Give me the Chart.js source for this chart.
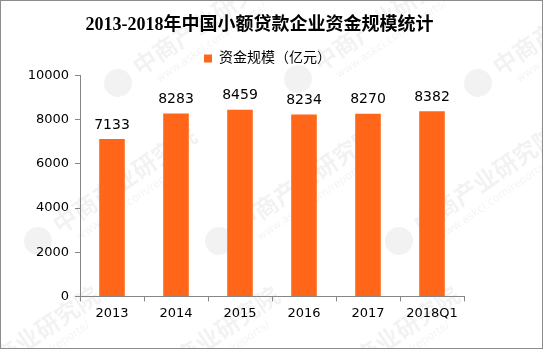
<!DOCTYPE html>
<html>
<head>
<meta charset="utf-8">
<script src="https://cdn.jsdelivr.net/npm/chart.js@4"></script>
<style>
  html, body { margin: 0; padding: 0; background: #fff; }
  .wrap { position: relative; width: 541px; height: 347px; border: 1px solid #8c8c8c; }
</style>
</head>
<body>
<div class="wrap"><canvas id="chart"></canvas></div>
<script>
const anos = ['2013', '2014', '2015', '2016', '2017', '2018Q1'];
const valores = [7133, 8283, 8459, 8234, 8270, 8382];
const ticksY = [0, 2000, 4000, 6000, 8000, 10000];

const laranja = '#ff6619';
const cinzaEixo = '#868686';
const fonteTexto = '"DejaVu Sans", "Noto Sans CJK SC", sans-serif';

// marca d'água com logo e texto inclinados, por trás das barras
const marcaDagua = {
  id: 'marcaDagua',
  beforeDraw(chart) {
    const ctx = chart.ctx;
    const pontos = [[117, 82], [297, 78], [477, 82], [37, 240], [218, 240], [398, 240], [27, -80], [207, -80], [387, -80], [-60, 400], [120, 400], [300, 400]];
    ctx.save();
    pontos.forEach(([x, y]) => {
      ctx.save();
      ctx.translate(x, y);
      ctx.rotate(-0.6);
      ctx.fillStyle = 'rgba(0,0,0,0.05)';
      ctx.beginPath();
      ctx.arc(0, 0, 14, 0, Math.PI * 2);
      ctx.fill();
      ctx.font = 'bold 24px "Noto Sans CJK SC", sans-serif';
      ctx.textBaseline = 'middle';
      ctx.fillText('中商产业研究院', 22, -2);
      ctx.font = '11px "DejaVu Sans", sans-serif';
      ctx.fillText('www.askci.com/reports/', 34, 20);
      ctx.restore();
    });
    ctx.restore();
  }
};

// título e legenda centrados sobre a largura toda, não só sobre o gráfico
const centrarTopo = {
  id: 'centrarTopo',
  afterLayout(chart) {
    const t = chart.titleBlock, l = chart.legend;
    if (t) { t.left += 22; t.right += 22; }
    if (l) { l.left += 30; l.right += 30; }
  }
};

// valores escritos acima de cada barra
const rotulos = {
  id: 'rotulos',
  afterDatasetsDraw(chart) {
    const ctx = chart.ctx;
    const meta = chart.getDatasetMeta(0);
    ctx.save();
    ctx.font = '14px ' + fonteTexto;
    ctx.fillStyle = '#000';
    ctx.textAlign = 'center';
    ctx.textBaseline = 'bottom';
    meta.data.forEach((bar, i) => {
      ctx.fillText(String(valores[i]), bar.x, bar.y - 7);
    });
    ctx.restore();
  }
};

new Chart(document.getElementById('chart'), {
  type: 'bar',
  data: {
    labels: anos,
    datasets: [{
      label: '资金规模（亿元）',
      data: valores,
      backgroundColor: laranja,
      borderWidth: 0,
      barPercentage: 0.4,
      categoryPercentage: 1
    }]
  },
  options: {
    responsive: true,
    maintainAspectRatio: false,
    animation: false,
    layout: { padding: { left: 10, right: 78, top: 0, bottom: 23 } },
    plugins: {
      title: {
        display: true,
        text: '2013-2018年中国小额贷款企业资金规模统计',
        color: '#000',
        font: { family: '"Liberation Serif", "Noto Sans CJK SC", serif', size: 18, weight: 'bold' },
        padding: { top: 14, bottom: 7 }
      },
      legend: {
        display: true,
        position: 'top',
        labels: {
          color: '#000',
          font: { family: fonteTexto, size: 14 },
          boxWidth: 8,
          boxHeight: 8,
          padding: 8
        }
      },
      tooltip: { enabled: false }
    },
    scales: {
      x: {
        grid: { display: true, drawOnChartArea: false, drawTicks: true, tickLength: 5, color: cinzaEixo, offset: true },
        border: { display: true, color: cinzaEixo },
        ticks: { color: '#000', font: { family: fonteTexto, size: 13 }, padding: 4, maxRotation: 0 }
      },
      y: {
        min: 0,
        max: 10000,
        afterBuildTicks: s => { s.ticks = ticksY.map(v => ({ value: v })); },
        afterFit: s => { s.width = 69; },
        grid: { display: true, drawOnChartArea: false, drawTicks: true, tickLength: 5, color: cinzaEixo },
        border: { display: true, color: cinzaEixo },
        ticks: { color: '#000', font: { family: fonteTexto, size: 13 }, padding: 6, callback: v => String(v) }
      }
    }
  },
  plugins: [marcaDagua, centrarTopo, rotulos]
});
</script>
</body>
</html>
